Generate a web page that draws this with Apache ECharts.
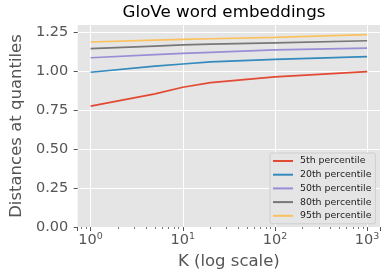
<!DOCTYPE html>
<html>
<head>
<meta charset="utf-8">
<script src="https://cdn.jsdelivr.net/npm/echarts@6/dist/echarts.min.js"></script>
<style>html,body{margin:0;padding:0;background:#fff;}#c{width:390px;height:276px;}</style>
</head>
<body>
<div id="c"></div>
<script>
var kValues = [1, 5, 10, 20, 100, 1000];
var p5  = [0.775, 0.853, 0.896, 0.926, 0.963, 0.996];
var p20 = [0.992, 1.031, 1.045, 1.058, 1.075, 1.092];
var p50 = [1.085, 1.105, 1.113, 1.120, 1.135, 1.147];
var p80 = [1.143, 1.160, 1.167, 1.172, 1.181, 1.194];
var p95 = [1.186, 1.198, 1.203, 1.207, 1.216, 1.233];
var seriesNames = ['5th percentile', '20th percentile', '50th percentile', '80th percentile', '95th percentile'];
var seriesColors = ['#E24A33', '#348ABD', '#988ED5', '#777777', '#FBC15E'];
var yTicks = [0, 0.25, 0.5, 0.75, 1.0, 1.25];

var allSeries = [p5, p20, p50, p80, p95];
var FONT = 'DejaVu Sans';

function pairs(vals) {
  return kValues.map(function (k, i) { return [k, vals[i]]; });
}

var chart = echarts.init(document.getElementById('c'), null, {renderer: 'canvas'});
chart.setOption({
  animation: false,
  title: {
    text: 'GloVe word embeddings',
    left: 224, top: 4, textAlign: 'center', padding: 0,
    textStyle: {fontFamily: FONT, fontSize: 16.7, fontWeight: 'normal', color: '#000'}
  },
  grid: {left: 68, right: 10, top: 25, bottom: 49, show: true, backgroundColor: '#E5E5E5', borderWidth: 0},
  legend: {
    orient: 'vertical', left: 270, top: 153,
    padding: [2.5, 4, 2.5, 3],
    itemWidth: 20, itemHeight: 2, itemGap: 2.7, icon: 'rect',
    backgroundColor: '#E5E5E5', borderColor: '#cfcfcf', borderWidth: 1, borderRadius: 2,
    textStyle: {fontFamily: FONT, fontSize: 9.4, color: '#222', lineHeight: 11, padding: [0, 0, 0, 2]},
    data: seriesNames
  },
  xAxis: {
    type: 'log', logBase: 10,
    min: Math.pow(10, -0.14), max: Math.pow(10, 3.14),
    name: 'K (log scale)', nameLocation: 'middle', nameGap: 23,
    nameTextStyle: {fontFamily: FONT, fontSize: 16.5, color: '#555'},
    axisLine: {show: false},
    axisTick: {show: true, length: 4, lineStyle: {color: '#555', width: 1}},
    minorTick: {show: true, splitNumber: 9, length: 2, lineStyle: {color: '#555', width: 0.8}},
    splitLine: {show: true, showMinLine: false, showMaxLine: false, lineStyle: {color: '#fff', width: 1}},
    axisLabel: {
      showMinLabel: false, showMaxLabel: false, margin: 5,
      formatter: function (v) {
        var e = Math.log10(v);
        if (Math.abs(e - Math.round(e)) > 1e-6) return '';
        return '{b|10}{s|' + Math.round(e) + '}';
      },
      rich: {
        b: {fontFamily: FONT, fontSize: 14.5, color: '#555', lineHeight: 16, verticalAlign: 'bottom'},
        s: {fontFamily: FONT, fontSize: 9.5, color: '#555', lineHeight: 10, verticalAlign: 'top'}
      }
    }
  },
  yAxis: {
    type: 'value', min: 0, max: 1.295, interval: 0.25,
    name: 'Distances at quantiles', nameLocation: 'middle', nameGap: 45, nameRotate: 90,
    nameTextStyle: {fontFamily: FONT, fontSize: 16.5, color: '#555'},
    axisLine: {show: false},
    axisTick: {show: true, length: 4, lineStyle: {color: '#555', width: 1}},
    splitLine: {show: true, showMinLine: false, showMaxLine: false, lineStyle: {color: '#fff', width: 1}},
    axisLabel: {
      showMaxLabel: false, margin: 9.5,
      fontFamily: FONT, fontSize: 14.5, color: '#555',
      formatter: function (v) {
        for (var i = 0; i < yTicks.length; i++) if (Math.abs(v - yTicks[i]) < 1e-9) return v.toFixed(2);
        return '';
      }
    }
  },
  series: allSeries.map(function (vals, i) {
    return {
      name: seriesNames[i], type: 'line', data: pairs(vals),
      symbol: 'none', color: seriesColors[i],
      lineStyle: {width: 1.7, color: seriesColors[i]}
    };
  })
});
</script>
</body>
</html>
